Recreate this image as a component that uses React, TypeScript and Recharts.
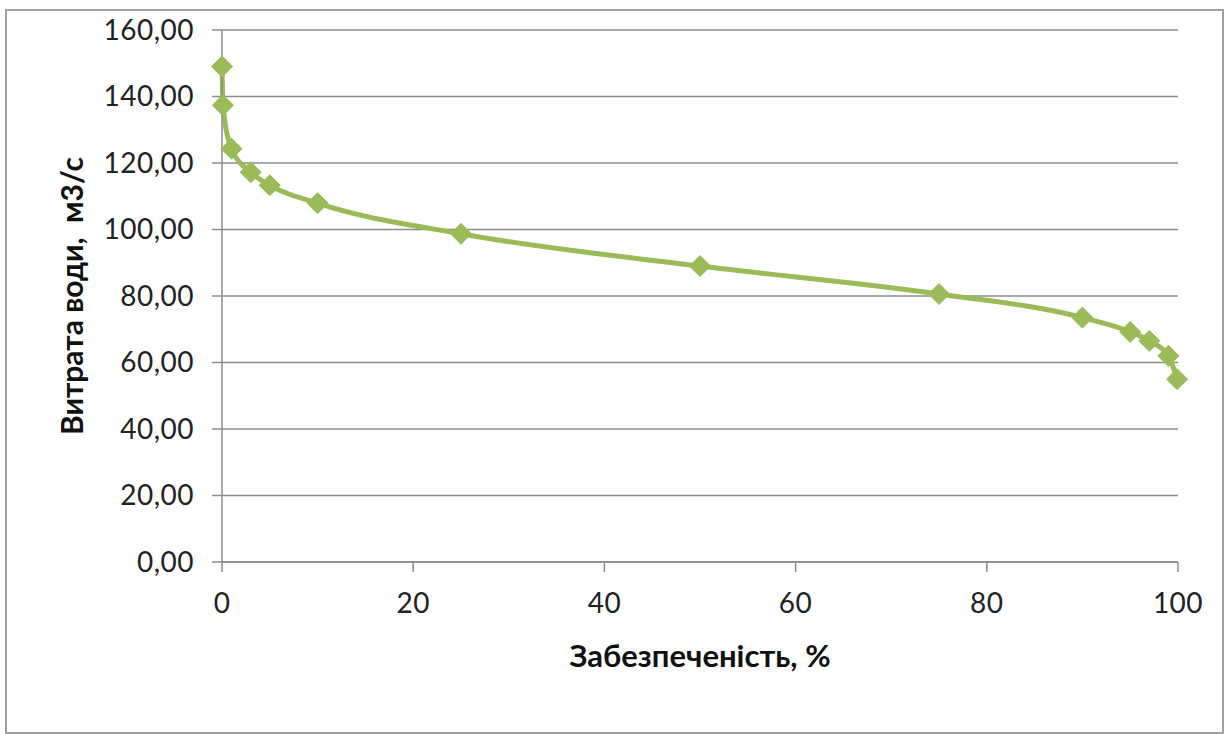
import React from 'react';
import { LineChart, Line, XAxis, YAxis, CartesianGrid, Label } from 'recharts';

const probability = [0.01, 0.1, 1, 3, 5, 10, 25, 50, 75, 90, 95, 97, 99, 99.9];
const discharge = [149, 137.4, 124.3, 117.2, 113.3, 107.9, 98.7, 89.0, 80.6, 73.5, 69.2, 66.5, 62.0, 55.0];
const xTicks = [0, 20, 40, 60, 80, 100];
const yTicks = [0, 20, 40, 60, 80, 100, 120, 140, 160];

const data = probability.map((p, i) => ({ p, q: discharge[i] }));

const GREEN = '#9BBB59';
const FONT = 'Lato, "Open Sans", sans-serif';

const Diamond = (props: any) => {
  const { cx, cy } = props;
  if (cx == null || cy == null) return null;
  const r = 10.5;
  return (
    <polygon
      points={`${cx},${cy - r} ${cx + r},${cy} ${cx},${cy + r} ${cx - r},${cy}`}
      fill={GREEN}
      stroke={GREEN}
      strokeWidth={1}
    />
  );
};

const fmt = (v: number) => v.toFixed(2).replace('.', ',');

export default function App() {
  return (
    <div style={{ position: 'absolute', left: 0, top: 0, width: 1226, height: 734, background: '#fff' }}>
      <div
        style={{
          position: 'absolute',
          left: 5,
          top: 9,
          width: 1215,
          height: 721,
          border: '2px solid #a0a0a0',
        }}
      />
      <div style={{ position: 'absolute', left: 0, top: 0 }}>
        <LineChart width={1226} height={734} data={data} margin={{ top: 30, right: 48, bottom: 60, left: 0 }}>
          <CartesianGrid horizontal={true} vertical={false} stroke="#8c8c8c" strokeWidth={1.5} />
          <XAxis
            dataKey="p"
            type="number"
            domain={[0, 100]}
            ticks={xTicks}
            tickSize={10}
            tickMargin={21}
            height={112}
            stroke="#8c8c8c"
            strokeWidth={1.5}
            tick={{ fill: '#222', fontSize: 28, fontFamily: FONT, letterSpacing: 0.5 }}
          >
            <Label
              value="Забезпеченість, %"
              position="insideTop"
              offset={83}
              style={{ fill: '#111', fontSize: 31, fontWeight: 700, fontFamily: FONT }}
            />
          </XAxis>
          <YAxis
            type="number"
            domain={[0, 160]}
            ticks={yTicks}
            tickFormatter={fmt}
            width={222}
            tickSize={10}
            tickMargin={18}
            stroke="#8c8c8c"
            strokeWidth={1.5}
            tick={{ fill: '#222', fontSize: 28, fontFamily: FONT, letterSpacing: 0.5 }}
          >
            <Label
              value={'Витрата води,\u00A0 м3/с'}
              angle={-90}
              position="center"
              dx={-39}
              style={{ fill: '#111', fontSize: 30, fontWeight: 700, fontFamily: FONT, textAnchor: 'middle' }}
            />
          </YAxis>
          <Line
            type="monotone"
            dataKey="q"
            stroke={GREEN}
            strokeWidth={5}
            dot={<Diamond />}
            activeDot={false}
            isAnimationActive={false}
          />
        </LineChart>
      </div>
    </div>
  );
}
